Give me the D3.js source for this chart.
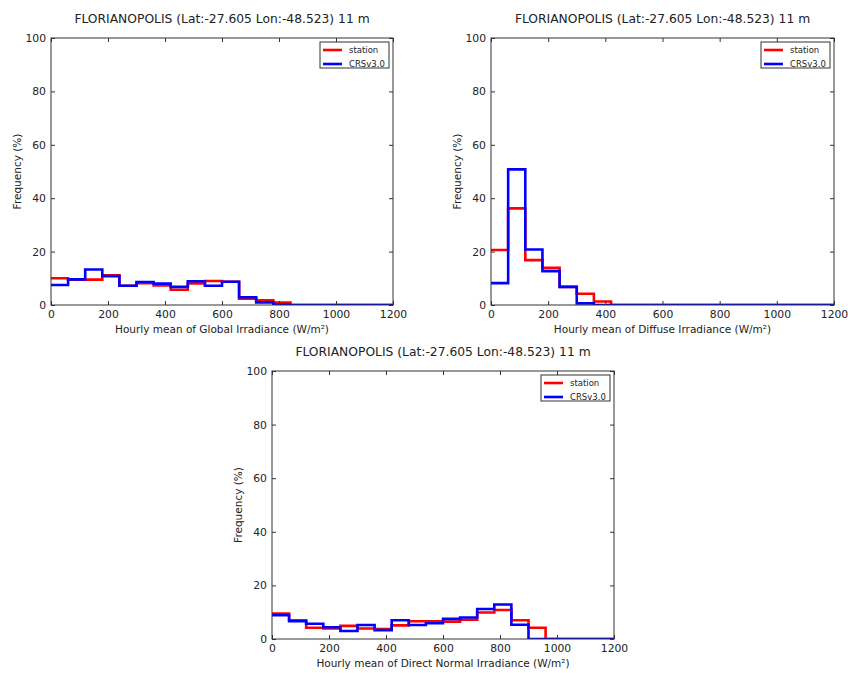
<!DOCTYPE html>
<html><head><meta charset="utf-8">
<script src="https://cdn.jsdelivr.net/npm/d3@7"></script>
<style>body{margin:0;background:#fff;} text{font-family:"DejaVu Sans",sans-serif;fill:#222;}</style>
</head><body>
<svg id="c" width="848" height="673"></svg>
<script>
const binEdges = d3.range(0, 1201, 60);
const xTicks = [0,200,400,600,800,1000,1200];
const yTicks = [0,20,40,60,80,100];
const title = "FLORIANOPOLIS (Lat:-27.605 Lon:-48.523) 11 m";
const seriesNames = ["station","CRSv3.0"];
const seriesColors = ["#ff0000","#0000ff"];

const globalStation = [10.0,9.5,9.5,11.1,7.2,8.2,7.3,5.7,8.1,9.0,8.7,2.4,1.8,0.9,0,0,0,0,0,0];
const globalCRS     = [7.5,9.6,13.3,10.8,7.2,8.6,8.0,6.8,8.9,7.2,8.7,2.9,1.0,0.1,0,0,0,0,0,0];
const diffuseStation = [20.6,36.2,16.8,13.9,6.8,4.2,1.3,0,0,0,0,0,0,0,0,0,0,0,0,0];
const diffuseCRS     = [8.2,50.8,20.8,12.7,6.8,0.6,0,0,0,0,0,0,0,0,0,0,0,0,0,0];
const dniStation = [9.5,7.0,4.2,3.9,4.9,3.9,3.7,5.1,6.6,6.6,6.5,7.2,9.9,10.8,7.0,4.2,0,0,0,0];
const dniCRS     = [8.9,6.6,5.7,4.4,3.0,5.2,3.3,7.0,5.2,5.9,7.5,8.0,11.2,12.9,5.3,0,0,0,0,0];

const svg = d3.select("#c");
let clipId = 0;

function panel(x0, x1, y0, y1, xlabel, series) {
  const g = svg.append("g");
  const x = d3.scaleLinear().domain([0,1200]).range([x0,x1]);
  const y = d3.scaleLinear().domain([0,100]).range([y1,y0]);
  const cid = "clip" + (clipId++);
  g.append("clipPath").attr("id",cid).append("rect")
    .attr("x",x0).attr("y",y0).attr("width",x1-x0).attr("height",y1-y0);
  // step lines
  series.forEach((vals,i) => {
    const pts = [];
    vals.forEach((v,k) => { pts.push([binEdges[k], v]); pts.push([binEdges[k+1], v]); });
    g.append("path")
      .attr("clip-path",`url(#${cid})`)
      .attr("d", d3.line().x(d=>x(d[0])).y(d=>y(d[1]))(pts))
      .attr("fill","none").attr("stroke",seriesColors[i]).attr("stroke-width",2.6)
      .attr("stroke-linejoin","miter");
  });
  // axes (ticks inside)
  const ax = g.append("g").attr("transform",`translate(0,${y1})`)
    .call(d3.axisBottom(x).tickValues(xTicks).tickSize(-4).tickPadding(5).tickFormat(d3.format("d")));
  const axT = g.append("g").attr("transform",`translate(0,${y0})`)
    .call(d3.axisTop(x).tickValues(xTicks).tickSize(-4).tickFormat(""));
  const ay = g.append("g").attr("transform",`translate(${x0},0)`)
    .call(d3.axisLeft(y).tickValues(yTicks).tickSize(-4).tickPadding(5));
  const ayR = g.append("g").attr("transform",`translate(${x1},0)`)
    .call(d3.axisRight(y).tickValues(yTicks).tickSize(-4).tickFormat(""));
  [ax,axT,ay,ayR].forEach(a => {
    a.select(".domain").remove();
    a.selectAll("line").attr("stroke","#333");
    a.selectAll("text").attr("font-size","10.8px").attr("font-family","DejaVu Sans").attr("fill","#222");
  });
  g.append("rect").attr("x",x0).attr("y",y0).attr("width",x1-x0).attr("height",y1-y0)
    .attr("fill","none").attr("stroke","#333").attr("stroke-width",1);
  // labels
  g.append("text").attr("x",(x0+x1)/2).attr("y",y0-15).attr("text-anchor","middle")
    .attr("font-size","12.3px").text(title);
  g.append("text").attr("x",(x0+x1)/2).attr("y",y1+28).attr("text-anchor","middle")
    .attr("font-size","10.5px").text(xlabel);
  g.append("text").attr("transform",`translate(${x0-30},${(y0+y1)/2}) rotate(-90)`)
    .attr("text-anchor","middle").attr("font-size","10.5px").text("Frequency (%)");
  // legend
  const lx = x1-73, ly = y0+4;
  g.append("rect").attr("x",lx).attr("y",ly).attr("width",69).attr("height",26)
    .attr("fill","#fff").attr("stroke","#333").attr("stroke-width",1);
  seriesNames.forEach((n,i) => {
    const yy = ly+8+i*14;
    g.append("line").attr("x1",lx+3).attr("x2",lx+22).attr("y1",yy).attr("y2",yy)
      .attr("stroke",seriesColors[i]).attr("stroke-width",2.6);
    g.append("text").attr("x",lx+29).attr("y",yy+3).attr("font-size","8.5px").text(n);
  });
}

panel(51, 393, 38, 305, "Hourly mean of Global Irradiance (W/m²)", [globalStation, globalCRS]);
panel(491, 834, 38, 305, "Hourly mean of Diffuse Irradiance (W/m²)", [diffuseStation, diffuseCRS]);
panel(272, 614, 371, 639, "Hourly mean of Direct Normal Irradiance (W/m²)", [dniStation, dniCRS]);
</script>
</body></html>
